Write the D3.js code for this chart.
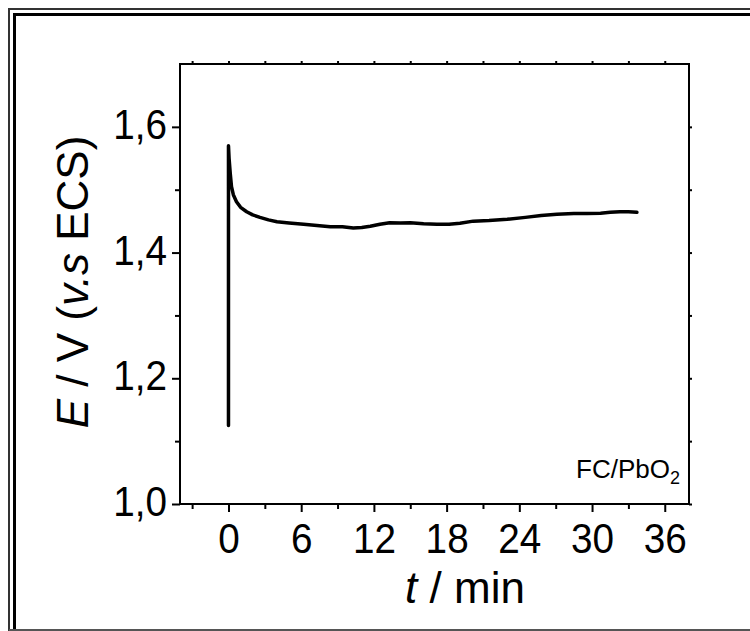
<!DOCTYPE html>
<html>
<head>
<meta charset="utf-8">
<script src="https://cdn.jsdelivr.net/npm/d3@7"></script>
<style>
  html, body { margin: 0; padding: 0; background: #fff; }
  svg { display: block; font-family: "Liberation Sans", Arial, Helvetica, sans-serif; }
</style>
</head>
<body>
<div id="chart"></div>
<script>
// time (min) and potential (V vs ECS)
var timeMin = [0, 0, 0.05, 0.15, 0.25, 0.4, 0.66, 1.0, 1.5, 2.0, 2.6, 3.3, 4.0, 5.0, 6.2, 7.3,
	8.4, 9.4, 10.3, 11.0, 11.7, 12.5, 13.3, 14.2, 15.0, 16.1, 17.2, 18.2, 19.1, 20.2, 21.5,
	23.0, 24.5, 25.8, 27.1, 28.5, 29.6, 30.7, 31.5, 32.3, 33.0, 33.7];
var potential = [1.125, 1.57, 1.55, 1.525, 1.505, 1.492, 1.481, 1.472, 1.465, 1.460, 1.456,
	1.452, 1.449, 1.447, 1.445, 1.443, 1.441, 1.441, 1.439, 1.440, 1.442, 1.445, 1.4475,
	1.447, 1.4475, 1.446, 1.445, 1.445, 1.4466, 1.450, 1.451, 1.453, 1.456, 1.459, 1.461,
	1.462, 1.462, 1.4626, 1.464, 1.465, 1.465, 1.464];

var xMajorTicks = [0, 6, 12, 18, 24, 30, 36];
var xMinorTicks = [-3, 3, 9, 15, 21, 27, 33];
var yMajorTicks = [1.0, 1.2, 1.4, 1.6];
var yMinorTicks = [1.1, 1.3, 1.5];
var xDomain = [-4, 38];
var yDomain = [1.0, 1.7];
var sampleLabel = "FC/PbO";

var W = 750, H = 631;
var plot = { left: 180, right: 689, top: 64, bottom: 504 };
var squeeze = 0.9;

var svg = d3.select("#chart").append("svg")
	.attr("width", W)
	.attr("height", H);

// frame around the figure
svg.append("path")
	.attr("d", "M9,632V9H752")
	.attr("fill", "none").attr("stroke", "#333").attr("stroke-width", 2);
svg.append("path")
	.attr("d", "M14.5,632V14.5H752")
	.attr("fill", "none").attr("stroke", "#000").attr("stroke-width", 3);
svg.append("line")
	.attr("x1", 9).attr("x2", 752).attr("y1", 630).attr("y2", 630)
	.attr("stroke", "#555").attr("stroke-width", 2);

var x = d3.scaleLinear().domain(xDomain).range([plot.left, plot.right]);
var y = d3.scaleLinear().domain(yDomain).range([plot.bottom, plot.top]);

function fmtY(d) { return d.toFixed(1).replace(".", ","); }

function styleAxis(g) {
	g.select(".domain").remove();
	g.selectAll("line").attr("stroke", "#000").attr("stroke-width", 2);
}

// minor ticks
svg.append("g")
	.attr("transform", "translate(0," + plot.bottom + ")")
	.call(d3.axisBottom(x).tickValues(xMinorTicks).tickSize(5).tickFormat(""))
	.call(styleAxis);
svg.append("g")
	.attr("transform", "translate(" + plot.left + ",0)")
	.call(d3.axisLeft(y).tickValues(yMinorTicks).tickSize(5).tickFormat(""))
	.call(styleAxis);

// mirror ticks on top and right
svg.append("g")
	.attr("transform", "translate(0," + plot.top + ")")
	.call(d3.axisTop(x).tickValues(xMajorTicks.concat(xMinorTicks)).tickSize(3).tickFormat(""))
	.call(styleAxis);
svg.append("g")
	.attr("transform", "translate(" + plot.right + ",0)")
	.call(d3.axisRight(y).tickValues(yMajorTicks.concat(yMinorTicks)).tickSize(3).tickFormat(""))
	.call(styleAxis);

// major ticks with labels
var xAxisG = svg.append("g")
	.attr("transform", "translate(0," + plot.bottom + ")")
	.call(d3.axisBottom(x).tickValues(xMajorTicks).tickSize(8).tickPadding(10))
	.call(styleAxis);
xAxisG.selectAll("text")
	.attr("fill", "#000")
	.style("font-size", "43px")
	.attr("transform", "scale(" + squeeze + ",1)");

var yAxisG = svg.append("g")
	.attr("transform", "translate(" + plot.left + ",0)")
	.call(d3.axisLeft(y).tickValues(yMajorTicks).tickSize(8).tickPadding(5).tickFormat(fmtY))
	.call(styleAxis);
yAxisG.selectAll("text")
	.attr("fill", "#000")
	.style("font-size", "43px")
	.attr("dy", "0.27em")
	.attr("x", -13 / squeeze)
	.attr("transform", "scale(" + squeeze + ",1)");

// plot box
svg.append("rect")
	.attr("x", plot.left).attr("y", plot.top)
	.attr("width", plot.right - plot.left).attr("height", plot.bottom - plot.top)
	.attr("fill", "none").attr("stroke", "#000").attr("stroke-width", 2);

// curve
var line = d3.line()
	.x(function(d, i) { return x(timeMin[i]); })
	.y(function(d) { return y(d); });
svg.append("path")
	.datum(potential)
	.attr("d", line)
	.attr("fill", "none")
	.attr("stroke", "#000")
	.attr("stroke-width", 3.5)
	.attr("stroke-linejoin", "round")
	.attr("stroke-linecap", "round");

// axis titles
var yTitle = svg.append("text")
	.attr("transform", "translate(88,282) rotate(-90)")
	.attr("text-anchor", "middle")
	.style("font-size", "44px")
	.attr("fill", "#000");
yTitle.append("tspan").style("font-style", "italic").text("E");
yTitle.append("tspan").text(" / V (");
yTitle.append("tspan").style("font-style", "italic").text("v.s");
yTitle.append("tspan").text(" ECS)");

var xTitle = svg.append("text")
	.attr("transform", "translate(465,603)")
	.attr("text-anchor", "middle")
	.style("font-size", "44px")
	.attr("fill", "#000");
xTitle.append("tspan").style("font-style", "italic").text("t");
xTitle.append("tspan").text(" / min");

// sample label
var tag = svg.append("text")
	.attr("x", 680).attr("y", 478)
	.attr("text-anchor", "end")
	.style("font-size", "26px")
	.attr("fill", "#000");
tag.append("tspan").text(sampleLabel);
tag.append("tspan").attr("dy", 6).style("font-size", "18px").text("2");
</script>
</body>
</html>
